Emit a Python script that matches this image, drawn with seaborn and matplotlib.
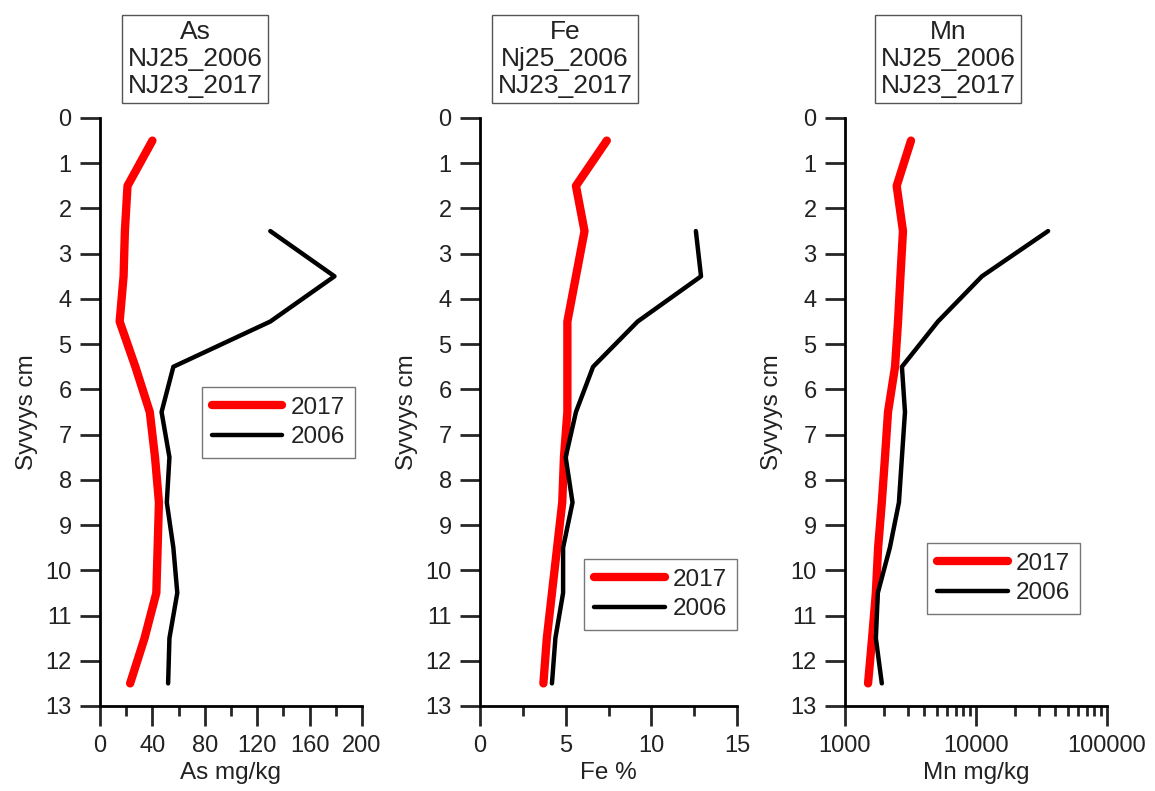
import numpy as np
import pandas as pd
import matplotlib
matplotlib.use("Agg")
import matplotlib.pyplot as plt
from matplotlib.ticker import FixedLocator, FuncFormatter, LogLocator, NullFormatter
from matplotlib.lines import Line2D
import seaborn as sns

# Sample depths (cm)
depth_2017 = [0.5, 1.5, 2.5, 3.5, 4.5, 5.5, 6.5, 7.5, 8.5, 9.5, 10.5, 11.5, 12.5]
depth_2006 = [2.5, 3.5, 4.5, 5.5, 6.5, 7.5, 8.5, 9.5, 10.5, 11.5, 12.5]

# Arsenic, mg/kg
as_2017 = [40, 21, 19, 18, 15, 27, 38, 42, 45, 44, 43, 34, 23]
as_2006 = [130, 179, 130, 56, 47, 53, 51, 56, 59, 53, 52]

# Iron, %
fe_2017 = [7.4, 5.6, 6.1, 5.6, 5.1, 5.1, 5.1, 4.9, 4.8, 4.5, 4.2, 3.9, 3.7]
fe_2006 = [12.6, 12.9, 9.2, 6.6, 5.6, 5.0, 5.4, 4.85, 4.85, 4.4, 4.2]

# Manganese, mg/kg
mn_2017 = [3190, 2480, 2770, 2650, 2540, 2410, 2130, 2020, 1910, 1790, 1720, 1610, 1500]
mn_2006 = [35500, 11100, 5120, 2720, 2870, 2720, 2580, 2200, 1780, 1720, 1910]

titles = ["As\nNJ25_2006\nNJ23_2017", "Fe\nNj25_2006\nNJ23_2017", "Mn\nNJ25_2006\nNJ23_2017"]
xlabels = ["As mg/kg", "Fe %", "Mn mg/kg"]
ylabel = "Syvyys cm"
years = ["2017", "2006"]

sns.set_style("white")
plt.rcParams["font.family"] = ["Liberation Sans", "DejaVu Sans"]
TXT = "#222222"

fig = plt.figure(figsize=(11.55, 7.91), dpi=100)

px_w, px_h = 1155, 791
def axes_rect(left, right, top=118, bottom=706):
    return [left / px_w, 1 - bottom / px_h, (right - left) / px_w, (bottom - top) / px_h]

axes = [
    fig.add_axes(axes_rect(100, 362)),
    fig.add_axes(axes_rect(480, 737)),
    fig.add_axes(axes_rect(845, 1107)),
]

panels = [
    (as_2017, as_2006),
    (fe_2017, fe_2006),
    (mn_2017, mn_2006),
]

legend_anchor = [(0.973, 0.5425), (1.0, 0.25), (0.897, 0.277)]
title_centers = [195, 565, 948]

for i, (ax, (v17, v06)) in enumerate(zip(axes, panels)):
    df17 = pd.DataFrame({"depth": depth_2017, "value": v17})
    df06 = pd.DataFrame({"depth": depth_2006, "value": v06})
    sns.lineplot(data=df17, x="value", y="depth", orient="y", ax=ax,
                 color="#ff0000", linewidth=6.0, solid_capstyle="round",
                 solid_joinstyle="round")
    sns.lineplot(data=df06, x="value", y="depth", orient="y", ax=ax,
                 color="black", linewidth=3.2, solid_capstyle="round",
                 solid_joinstyle="round")

    ax.set_ylim(13, 0)
    ax.yaxis.set_major_locator(FixedLocator(np.arange(0, 14, 1)))
    ax.set_yticklabels([str(k) for k in range(14)])

    if i == 0:
        ax.set_xlim(0, 200)
        ax.set_xticks(np.arange(0, 201, 40))
        ax.xaxis.set_minor_locator(FixedLocator(np.arange(20, 200, 40)))
    elif i == 1:
        ax.set_xlim(0, 15)
        ax.set_xticks([0, 5, 10, 15])
        ax.xaxis.set_minor_locator(FixedLocator([2.5, 7.5, 12.5]))
    else:
        ax.set_xscale("log")
        ax.set_xlim(1000, 100000)
        ax.xaxis.set_major_locator(FixedLocator([1000, 10000, 100000]))
        ax.xaxis.set_major_formatter(FuncFormatter(lambda v, p: f"{int(round(v))}"))
        ax.xaxis.set_minor_locator(LogLocator(base=10, subs=np.arange(2, 10)))
        ax.xaxis.set_minor_formatter(NullFormatter())

    for side in ["top", "right"]:
        ax.spines[side].set_visible(False)
    for side in ["left", "bottom"]:
        ax.spines[side].set_linewidth(2.0)
        ax.spines[side].set_color("black")

    ax.tick_params(axis="y", which="major", direction="out", length=14.4, width=2.0,
                   pad=6, labelsize=17, labelcolor=TXT, left=True)
    ax.tick_params(axis="x", which="major", direction="out", length=14.4, width=2.0,
                   pad=6.5, labelsize=17, labelcolor=TXT, bottom=True)
    ax.tick_params(axis="x", which="minor", direction="out", length=7.5, width=2.0,
                   bottom=True)

    ax.set_xlabel(xlabels[i], fontsize=17.5, color=TXT, labelpad=3.5)
    ax.set_ylabel(ylabel, fontsize=17.5, color=TXT, labelpad=5)

    handles = [
        Line2D([], [], color="#ff0000", linewidth=6.0, solid_capstyle="round"),
        Line2D([], [], color="black", linewidth=3.2, solid_capstyle="round"),
    ]
    leg = ax.legend(handles, years, loc="upper right", bbox_to_anchor=legend_anchor[i],
                    frameon=True, fancybox=False, fontsize=17.5, handlelength=2.9,
                    handletextpad=0.35, borderpad=0.4, labelspacing=0.3,
                    borderaxespad=0.0)
    leg.get_frame().set_edgecolor("#555555")
    leg.get_frame().set_linewidth(1.0)
    for t in leg.get_texts():
        t.set_color(TXT)

    fig.text(title_centers[i] / px_w, 1 - 59 / px_h, titles[i], ha="center", va="center",
             fontsize=19, color=TXT, linespacing=1.15,
             bbox=dict(boxstyle="square,pad=0.2", facecolor="white",
                       edgecolor="#555555", linewidth=1.0))

fig.savefig("out.png", dpi=100)
